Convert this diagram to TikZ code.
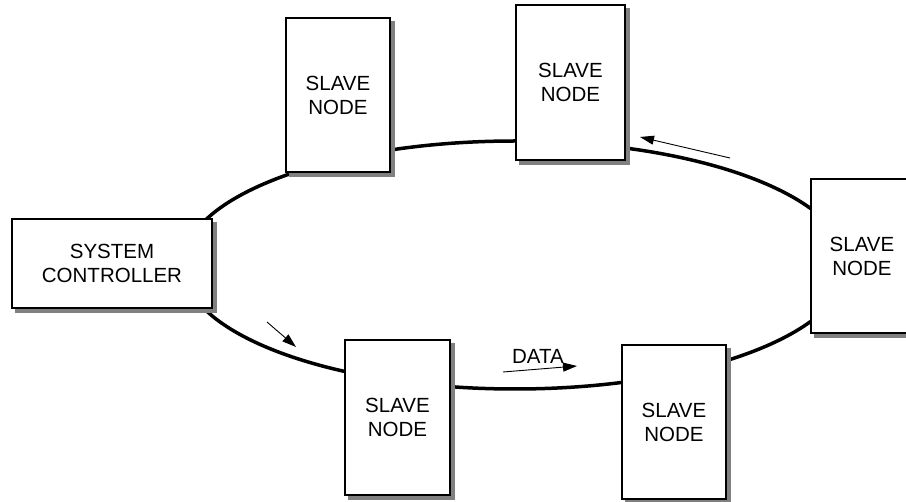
\documentclass[tikz,border=0pt]{standalone}
\usepackage{fontspec}
\setmainfont{Liberation Sans}
\usetikzlibrary{arrows.meta,backgrounds}
\begin{document}
\begin{tikzpicture}[x=1pt,y=-1pt,
  box/.style={draw=black,line width=1.2pt,fill=white,rectangle,inner sep=0pt,
    align=center,font=\fontsize{20.5}{24}\selectfont},
  shade/.style={fill=black!50},
  ring/.style={line width=3.5pt},
  flow/.style={line width=0.9pt,-{Triangle[length=14pt,width=9pt]}}]
\useasboundingbox (0,0) rectangle (906,502);
\clip (0,0) rectangle (906,502);
% nodes
\node[box,minimum width=200pt,minimum height=89pt] (ctrl) at (112,263.5) {SYSTEM\\CONTROLLER};
\node[box,minimum width=104pt,minimum height=154pt] (s1) at (338,95) {SLAVE\\NODE};
\node[box,minimum width=109pt,minimum height=155pt] (s2) at (570.5,82.5) {SLAVE\\NODE};
\node[box,minimum width=102pt,minimum height=154pt] (s3) at (862,256) {SLAVE\\NODE};
\node[box,minimum width=105pt,minimum height=155pt] (s4) at (397.5,417.5) {SLAVE\\NODE};
\node[box,minimum width=104pt,minimum height=154pt] (s5) at (674,422) {SLAVE\\NODE};
\begin{scope}[on background layer]
  % ring
  \draw[ring] (515,265) ellipse [x radius=332, y radius=124];
  % shadows
  \foreach \n in {ctrl,s1,s2,s3,s4,s5}
    \fill[shade] ([shift={(4,4)}]\n.south west) rectangle ([shift={(4,4)}]\n.north east);
\end{scope}
% arrows
\coordinate (a1s) at (730,158);
\coordinate (a1e) at (640,137);
\coordinate (a2s) at (267,322);
\coordinate (a2e) at (296,347);
\coordinate (a3s) at (503,372);
\coordinate (a3e) at (577,366);
\draw[flow] (a1s) -- (a1e);
\draw[flow] (a2s) -- (a2e);
\draw[flow] (a3s) -- (a3e);
\node[font=\fontsize{20.5}{24}\selectfont,inner sep=0pt] (data) at (538,356) {DATA};
\end{tikzpicture}
\end{document}
